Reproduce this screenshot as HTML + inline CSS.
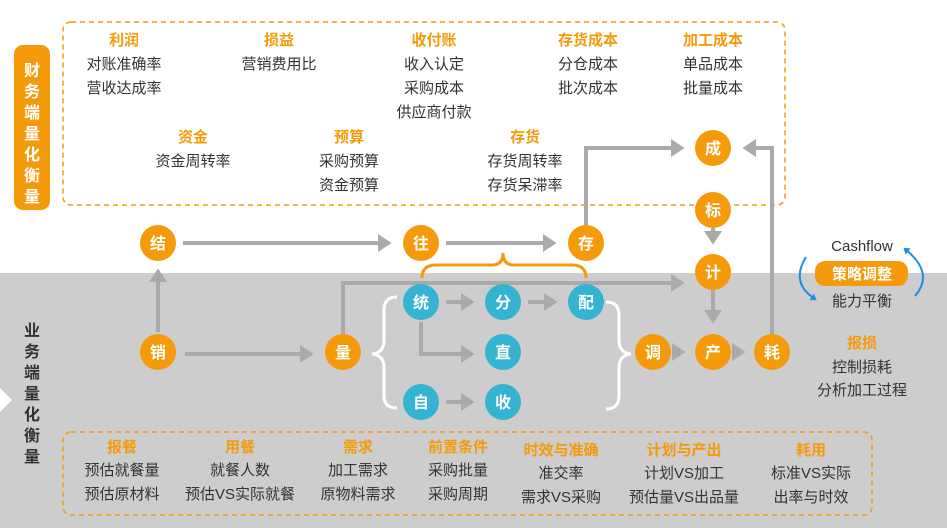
<!DOCTYPE html>
<html><head><meta charset="utf-8"><style>
body{margin:0;background:#fff}
svg{display:block;font-family:"Liberation Sans","Noto Sans CJK SC",sans-serif}
.h{fill:#f59a0b;font-weight:bold;font-size:15px;text-anchor:middle}
.t{fill:#333;font-size:15px;text-anchor:middle}
.n{fill:#fff;font-weight:bold;font-size:16px;text-anchor:middle}
.a{stroke:#aaa;stroke-width:4;fill:none}
</style></head><body>
<svg width="947" height="528" viewBox="0 0 947 528">
<defs><marker id="ar" markerWidth="5" markerHeight="5" refX="2.5" refY="2.25" orient="auto" markerUnits="strokeWidth"><path d="M0,0 L3.4,2.25 L0,4.5z" fill="#aaa"/></marker>
<marker id="ab" markerWidth="4" markerHeight="4" refX="2" refY="2" orient="auto" markerUnits="strokeWidth"><path d="M0,0 L3,2 L0,4z" fill="#1e90e0"/></marker></defs>
<rect x="0" y="273" width="947" height="255" fill="#cdcdcd"/>
<path d="M0,388 L12,400 L0,412z" fill="#fff"/>
<rect x="14" y="45" width="36" height="165" rx="9" fill="#f59a0b"/>
<text fill="#fff" font-weight="bold" font-size="16" text-anchor="middle"><tspan x="32" y="76">财</tspan><tspan x="32" y="97">务</tspan><tspan x="32" y="118">端</tspan><tspan x="32" y="139">量</tspan><tspan x="32" y="160">化</tspan><tspan x="32" y="181">衡</tspan><tspan x="32" y="202">量</tspan></text>
<text fill="#333" font-weight="bold" font-size="16" text-anchor="middle"><tspan x="32" y="336">业</tspan><tspan x="32" y="357">务</tspan><tspan x="32" y="378">端</tspan><tspan x="32" y="399">量</tspan><tspan x="32" y="420">化</tspan><tspan x="32" y="441">衡</tspan><tspan x="32" y="462">量</tspan></text>
<rect x="63" y="22" width="722" height="183" rx="8" fill="none" stroke="#f59a0b" stroke-width="1.5" stroke-dasharray="5,4"/>
<rect x="63" y="432" width="809" height="83" rx="8" fill="none" stroke="#f59a0b" stroke-width="1.5" stroke-dasharray="5,4"/>
<text class="h" x="124" y="45">利润</text><text class="t" x="124" y="69">对账准确率</text><text class="t" x="124" y="93">营收达成率</text>
<text class="h" x="279" y="45">损益</text><text class="t" x="279" y="69">营销费用比</text>
<text class="h" x="434" y="45">收付账</text><text class="t" x="434" y="69">收入认定</text><text class="t" x="434" y="93">采购成本</text><text class="t" x="434" y="117">供应商付款</text>
<text class="h" x="588" y="45">存货成本</text><text class="t" x="588" y="69">分仓成本</text><text class="t" x="588" y="93">批次成本</text>
<text class="h" x="713" y="45">加工成本</text><text class="t" x="713" y="69">单品成本</text><text class="t" x="713" y="93">批量成本</text>
<text class="h" x="193" y="142">资金</text><text class="t" x="193" y="166">资金周转率</text>
<text class="h" x="349" y="142">预算</text><text class="t" x="349" y="166">采购预算</text><text class="t" x="349" y="190">资金预算</text>
<text class="h" x="525" y="142">存货</text><text class="t" x="525" y="166">存货周转率</text><text class="t" x="525" y="190">存货呆滞率</text>
<text class="h" x="122" y="452">报餐</text><text class="t" x="122" y="475">预估就餐量</text><text class="t" x="122" y="499">预估原材料</text>
<text class="h" x="240" y="452">用餐</text><text class="t" x="240" y="475">就餐人数</text><text class="t" x="240" y="499">预估VS实际就餐</text>
<text class="h" x="358" y="452">需求</text><text class="t" x="358" y="475">加工需求</text><text class="t" x="358" y="499">原物料需求</text>
<text class="h" x="458" y="452">前置条件</text><text class="t" x="458" y="475">采购批量</text><text class="t" x="458" y="499">采购周期</text>
<text class="h" x="561" y="455">时效与准确</text><text class="t" x="561" y="478">准交率</text><text class="t" x="561" y="502">需求VS采购</text>
<text class="h" x="684" y="455">计划与产出</text><text class="t" x="684" y="478">计划VS加工</text><text class="t" x="684" y="502">预估量VS出品量</text>
<text class="h" x="811" y="455">耗用</text><text class="t" x="811" y="478">标准VS实际</text><text class="t" x="811" y="502">出率与时效</text>
<g class="a">
<path d="M183,243 H388" marker-end="url(#ar)"/>
<path d="M446,243 H553" marker-end="url(#ar)"/>
<path d="M586,225 V148 H681" marker-end="url(#ar)"/>
<path d="M772,334 V148 H746" marker-end="url(#ar)"/>
<path d="M713,228 V241" marker-end="url(#ar)"/>
<path d="M713,290 V320" marker-end="url(#ar)"/>
<path d="M158,332 V272" marker-end="url(#ar)"/>
<path d="M185,354 H310" marker-end="url(#ar)"/>
<path d="M343,334 V283 H681" marker-end="url(#ar)"/>
<path d="M446,302 H471" marker-end="url(#ar)"/>
<path d="M528,302 H554" marker-end="url(#ar)"/>
<path d="M421,322 V354 H471" marker-end="url(#ar)"/>
<path d="M446,402 H471" marker-end="url(#ar)"/>
<path d="M675,352 H682" marker-end="url(#ar)"/>
<path d="M735,352 H742" marker-end="url(#ar)"/>
</g>
<path d="M422,278 Q422,265 436,265 H492 Q503,265 503,253 Q503,265 514,265 H572 Q586,265 586,278" fill="none" stroke="#f59a0b" stroke-width="3"/>
<path d="M397,297 Q384,297 384,310 V340 Q384,353 372,354 Q384,355 384,368 V396 Q384,408 397,408" fill="none" stroke="#fff" stroke-width="3"/>
<path d="M606,302 Q619,302 619,315 V340 Q619,353 631,354 Q619,355 619,368 V396 Q619,409 606,409" fill="none" stroke="#fff" stroke-width="3"/>
<g fill="#f59a0b"><circle cx="158" cy="243" r="18"/><circle cx="421" cy="243" r="18"/><circle cx="586" cy="243" r="18"/><circle cx="713" cy="148" r="18"/><circle cx="713" cy="210" r="18"/><circle cx="713" cy="272" r="18"/><circle cx="158" cy="352" r="18"/><circle cx="343" cy="352" r="18"/><circle cx="653" cy="352" r="18"/><circle cx="713" cy="352" r="18"/><circle cx="772" cy="352" r="18"/></g>
<g fill="#35b3d2"><circle cx="421" cy="302" r="18"/><circle cx="503" cy="302" r="18"/><circle cx="586" cy="302" r="18"/><circle cx="503" cy="352" r="18"/><circle cx="421" cy="402" r="18"/><circle cx="503" cy="402" r="18"/></g>
<g class="n"><text x="158" y="249">结</text><text x="421" y="249">往</text><text x="586" y="249">存</text><text x="713" y="154">成</text><text x="713" y="216">标</text><text x="713" y="278">计</text><text x="158" y="358">销</text><text x="343" y="358">量</text><text x="653" y="358">调</text><text x="713" y="358">产</text><text x="772" y="358">耗</text><text x="421" y="308">统</text><text x="503" y="308">分</text><text x="586" y="308">配</text><text x="503" y="358">直</text><text x="421" y="408">自</text><text x="503" y="408">收</text></g>
<text x="862" y="251" fill="#333" font-size="15" text-anchor="middle">Cashflow</text>
<rect x="815" y="261" width="93" height="25" rx="10" fill="#f59a0b"/>
<text x="862" y="279" fill="#fff" font-weight="bold" font-size="15" text-anchor="middle">策略调整</text>
<text x="862" y="306" fill="#333" font-size="15" text-anchor="middle">能力平衡</text>
<path d="M806,257 Q790,283 815,299" fill="none" stroke="#1e90e0" stroke-width="2" marker-end="url(#ab)"/>
<path d="M915,296 Q935,273 905,249" fill="none" stroke="#1e90e0" stroke-width="2" marker-end="url(#ab)"/>
<text class="h" x="862" y="348">报损</text>
<text class="t" x="862" y="372">控制损耗</text>
<text class="t" x="862" y="395">分析加工过程</text>
</svg>
</body></html>
